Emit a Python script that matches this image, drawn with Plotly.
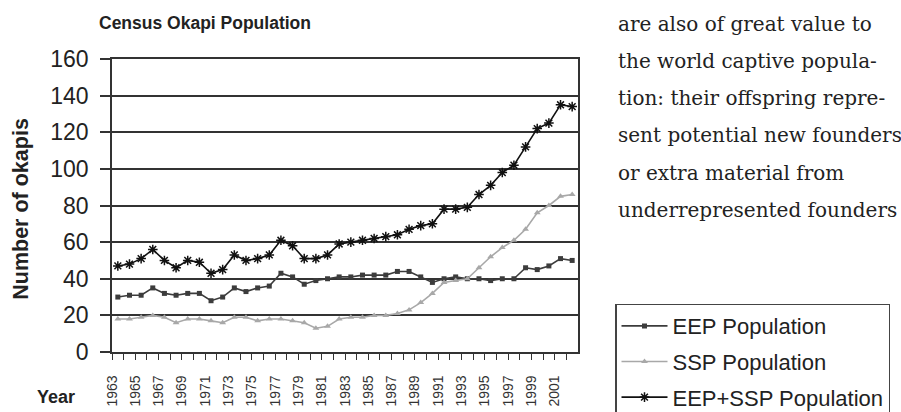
import plotly.graph_objects as go

years = list(range(1963, 2003))
eep = [30, 31, 31, 35, 32, 31, 32, 32, 28, 30, 35, 33, 35, 36, 43, 41, 37, 39, 40, 41,
       41, 42, 42, 42, 44, 44, 41, 38, 40, 41, 40, 40, 39, 40, 40, 46, 45, 47, 51, 50]
ssp = [18, 18, 19, 20, 19, 16, 18, 18, 17, 16, 19, 19, 17, 18, 18, 17, 16, 13, 14, 18,
       19, 19, 20, 20, 21, 23, 27, 32, 38, 39, 40, 46, 52, 57, 61, 67, 76, 80, 85, 86]
total = [47, 48, 51, 56, 50, 46, 50, 49, 43, 45, 53, 50, 51, 53, 61, 58, 51, 51, 53, 59,
         60, 61, 62, 63, 64, 67, 69, 70, 78, 78, 79, 86, 91, 98, 102, 112, 122, 125, 135, 134]
label_years = [y for y in years if y % 2 == 1]
y_ticks = [0, 20, 40, 60, 80, 100, 120, 140, 160]
body_lines = ["are also of great value to",
              "the world captive popula-",
              "tion: their offspring repre-",
              "sent potential new founders",
              "or extra material from",
              "underrepresented founders"]

W, H = 901, 412
L, R, T, B = 112, 578, 59, 352.5


def px(x):
    return (x - L) / (R - L)


def py(y):
    return (B - y) / (B - T)


fig = go.Figure()
fig.add_trace(go.Scatter(x=years, y=eep, name="EEP Population", mode="lines+markers",
                         legendgroup="a",
                         line=dict(color="#3c3c3c", width=1.6),
                         marker=dict(symbol="square", size=5, color="#3c3c3c")))
fig.add_trace(go.Scatter(x=years, y=ssp, name="SSP Population", mode="lines+markers",
                         legendgroup="b",
                         line=dict(color="#a8a8a8", width=1.6),
                         marker=dict(symbol="triangle-up", size=6, color="#a8a8a8")))
fig.add_trace(go.Scatter(x=years, y=total, name="EEP+SSP Population", mode="lines+markers",
                         legendgroup="c",
                         line=dict(color="#111111", width=1.6),
                         marker=dict(symbol="asterisk-open", size=8,
                                     line=dict(color="#111111", width=1.5))))

tickvals = [y - 0.5 for y in years]
ticktext = [str(y) if y in label_years else "" for y in years]

fig.update_layout(
    width=W, height=H,
    margin=dict(l=L, r=W - R, t=T, b=H - B, autoexpand=False),
    paper_bgcolor="white", plot_bgcolor="white",
    font=dict(family="Liberation Sans, Arial, sans-serif", color="#222"),
    xaxis=dict(range=[years[0] - 0.5, years[-1] + 0.5], tickmode="array",
               tickvals=tickvals, ticktext=ticktext, tickangle=-90,
               ticks="outside", ticklen=6, tickcolor="#333", tickwidth=1,
               tickfont=dict(size=14, color="#333"), ticklabelstandoff=10,
               showgrid=False, showline=True, linecolor="#333", linewidth=1.5,
               mirror=True, zeroline=False, automargin=False),
    yaxis=dict(range=[0, 160], tickmode="array", tickvals=y_ticks,
               ticks="outside", ticklen=10, tickcolor="#333", tickwidth=1.5,
               tickfont=dict(size=23, color="#222"), ticklabelstandoff=7,
               showgrid=True, gridcolor="#333", gridwidth=1.5,
               showline=True, linecolor="#333", linewidth=1.5, mirror=True,
               zeroline=False, automargin=False),
    legend=dict(x=px(615), y=py(304), xanchor="left", yanchor="top",
                bordercolor="#444", borderwidth=1.5, bgcolor="white",
                font=dict(size=22, color="#222"), itemwidth=46,
                traceorder="grouped", tracegroupgap=4),
    showlegend=True,
)

ann = []
ann.append(dict(text="<b>Census Okapi Population</b>", x=px(205), y=py(23),
                font=dict(size=17.5, color="#222")))
ann.append(dict(text="<b>Number of okapis</b>", x=px(21), y=py(209), textangle=-90,
                font=dict(size=21.5, color="#222")))
ann.append(dict(text="<b>Year</b>", x=px(56), y=py(398),
                font=dict(size=18, color="#222")))
for i, line in enumerate(body_lines):
    ann.append(dict(text=line, x=px(616), y=py(24 + 37.2 * i), xanchor="left",
                    font=dict(family="DejaVu Serif, serif", size=20, color="#222")))
for a in ann:
    a.setdefault("xanchor", "center")
    a.update(xref="paper", yref="paper", yanchor="middle", showarrow=False)
fig.update_layout(annotations=ann)

fig.write_html("out.html")
